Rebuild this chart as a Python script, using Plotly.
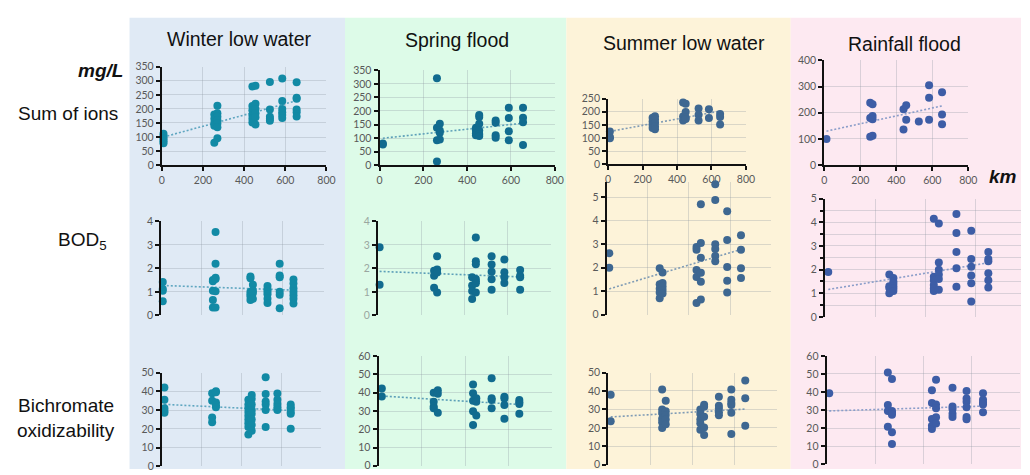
import numpy as np
import plotly.graph_objects as go

# ---- data: (distance along river in km, measured values at that station) ----
SEASONS = ["Winter low water", "Spring flood", "Summer low water", "Rainfall flood"]

WINTER_IONS = [(8, [112, 104, 97, 90, 84, 78]), (255, [180, 165, 150, 140, 80]),
               (270, [211, 185, 172, 160, 148, 135, 96]), (440, [280, 210, 195, 178, 165, 152]),
               (455, [282, 218, 200, 185, 170, 145]), (525, [296, 198, 172, 165, 158]),
               (585, [308, 228, 200, 188, 178, 168]), (655, [295, 240, 236, 198, 188, 173])]
SPRING_IONS = [(15, [80, 76]), (262, [321, 138, 92, 14]), (275, [153, 128, 120, 95]),
               (440, [138, 128, 118, 110]), (455, [185, 178, 153, 128, 115, 108]),
               (530, [165, 157, 110, 101]), (590, [212, 174, 125, 92]), (655, [212, 175, 158, 74])]
SUMMER_IONS = [(10, [125, 104, 99]), (258, [177, 163, 150, 138]), (272, [183, 170, 157, 144, 133]),
               (435, [235, 182, 167]), (450, [230, 199, 177, 172]), (525, [212, 188, 167]),
               (585, [209, 176]), (650, [191, 180, 151])]
RAIN_IONS = [(12, [100]), (255, [238, 180, 108]), (268, [232, 188, 175, 112]), (440, [213, 136]),
             (455, [229, 173]), (525, [167]), (582, [305, 257, 173]), (654, [278, 193, 156])]

WINTER_BOD = [(8, [1.42, 1.12, 1.05, 0.6]), (255, [1.5, 1.45, 1.05, 0.65, 0.33]),
              (268, [3.55, 2.2, 1.6, 1.55, 1.02, 0.33]), (440, [1.65, 1.58, 1.0, 0.9, 0.8, 0.65]),
              (452, [1.3, 1.05, 0.95, 0.7]), (524, [1.25, 1.1, 1.0, 0.9, 0.7, 0.52]),
              (584, [2.2, 1.7, 1.62, 1.0, 0.88, 0.3]), (652, [1.52, 1.35, 1.15, 1.0, 0.85, 0.7, 0.5])]
SPRING_BOD = [(8, [2.9, 1.3]), (260, [1.9, 1.68, 1.17]), (274, [2.52, 1.95, 1.82, 0.97]),
              (436, [1.62, 1.27, 1.04, 0.69]), (453, [3.31, 2.3, 2.17, 1.55, 1.45, 1.37, 0.97]),
              (526, [2.52, 2.16, 1.85, 1.54, 1.09]), (585, [2.38, 1.83, 1.62, 1.38]),
              (658, [1.93, 1.68, 1.62, 1.09])]
SUMMER_BOD = [(13, [2.62, 2.0]), (258, [1.98, 1.3, 1.1, 0.95, 0.7]), (272, [1.8, 1.35, 1.2, 1.05, 0.9]),
              (437, [2.88, 2.76, 1.9, 1.6, 0.5]), (458, [4.7, 3.05, 2.42, 1.78, 1.4, 0.65]),
              (528, [5.55, 4.88, 3.0, 2.8, 2.5, 2.28]), (586, [4.4, 3.18, 2.03, 1.45, 0.94]),
              (653, [3.38, 2.76, 1.98, 1.56])]
RAIN_BOD = [(13, [1.9]), (256, [1.8, 1.3, 1.22, 1.0]), (272, [1.65, 1.5, 1.4, 1.3, 1.2, 1.1]),
            (433, [4.15, 1.7, 1.55, 1.35, 1.2, 1.1]), (453, [3.95, 2.3, 2.0, 1.8, 1.6, 1.15]),
            (523, [4.35, 3.55, 2.75, 2.06, 1.28]), (582, [3.65, 2.45, 2.12, 1.75, 1.43, 0.65]),
            (650, [2.75, 2.45, 2.35, 1.85, 1.55, 1.25])]

WINTER_COD = [(13, [42, 35.5, 31, 29.5, 28.5]), (253, [39, 35, 26, 23.5]), (272, [40, 39.5, 34, 32.5, 31.5]),
              (435, [35.5, 33, 31, 29, 27, 25, 23, 21, 17]), (452, [38, 36, 33, 30, 28, 25, 22, 19]),
              (522, [47.5, 38.5, 34.5, 33, 30, 21]), (581, [38.8, 35.5, 33.2, 31.5, 30]),
              (648, [33, 31.5, 30.5, 29, 28, 20])]
SPRING_COD = [(15, [42.3, 38]), (255, [40, 35, 32.5, 31.5]), (274, [41.3, 39.5, 29]),
              (437, [44.5, 39.7, 35.6, 29.8, 22.3]), (452, [37, 35, 27.6]), (523, [48, 37, 36, 31.5]),
              (582, [37.8, 36.8, 33.3, 25.8]), (651, [36, 34.8, 33.8, 28.5])]
SUMMER_COD = [(12, [38, 23.6]), (256, [40.8, 30, 28, 25, 23, 20]), (273, [34.7, 29, 27, 24.5, 22]),
              (437, [30, 27.5, 24.5, 22.5, 19]), (455, [32.5, 31.5, 26, 20.2, 16.2]),
              (525, [36.8, 32, 30.5, 28.5, 26.8]), (584, [40.8, 35.2, 33.5, 32.4, 28.2, 16.7]),
              (650, [45.6, 36.1, 21.1])]
RAIN_COD = [(11, [39.3]), (253, [50.8, 32.8, 29.5, 20.7]), (270, [47.2, 29.5, 28.5, 27.4, 17.7, 11.2]),
            (435, [40.9, 33.9, 25, 21.3, 19.5]), (452, [46.8, 33, 31, 26, 22.5]),
            (520, [42.3, 31.9, 30.6, 27.9, 26.1]), (578, [40.5, 36.4, 34.6, 31.5, 26.1, 24.9]),
            (646, [39.3, 35.7, 34.2, 33, 28.8])]

GRID_DATA = [
    [WINTER_IONS, SPRING_IONS, SUMMER_IONS, RAIN_IONS],
    [WINTER_BOD, SPRING_BOD, SUMMER_BOD, RAIN_BOD],
    [WINTER_COD, SPRING_COD, SUMMER_COD, RAIN_COD],
]

# ---- page geometry (pixels) ----
W, H = 1030, 475
PANEL_X = [(128, 346), (346, 570), (570, 797), (797, 1030)]
PANEL_COLORS = ["#e0eaf5", "#ddfbe8", "#fdf3d9", "#fde9f1"]
DOT_COLORS = ["#128aa5", "#116b8f", "#3e6791", "#3d5da6"]
TREND_COLORS = ["#5fa6c0", "#5c9fb8", "#7f9bb5", "#8a9dc9"]

# plot boxes: (x_left, x_right, x_max, y_top, y_bottom, y_max, dtick)
BOXES = [
    [(160.7, 327.3, 800, 62.3, 163.3, 350, 50), (381, 558.3, 800, 66, 163.3, 350, 50),
     (612.3, 751.7, 800, 95, 162.3, 250, 50), (831, 976.7, 800, 55.7, 163.3, 400, 100)],
    [(160, 324.3, 800, 221, 317.3, 4, 1), (379.3, 554.3, 800, 221, 317.3, 4, 1),
     (610.7, 777.3, 800, 180.5, 316.7, 5.65, 1), (831.7, 1030, 780, 197.7, 319, 5, 1)],
    [(160.7, 321.7, 800, 376, 472.3, 50, 10), (380, 555, 800, 359.3, 471.7, 60, 10),
     (612.3, 783, 800, 376, 470.7, 50, 10), (833.3, 1029.3, 800, 359, 470, 60, 10)],
]

fig = go.Figure()
layout = {}
tick_font = dict(family="Lato, Open Sans, sans-serif", size=10.5, color="#595959")
grid_col = "rgba(140,150,160,0.30)"

n = 0
for r in range(3):
    for c in range(4):
        n += 1
        sfx = "" if n == 1 else str(n)
        groups = GRID_DATA[r][c]
        xs = [km for km, vals in groups for _ in vals]
        ys = [v for _, vals in groups for v in vals]
        xl, xr, xmax, yt, yb, ymax, dt = BOXES[r][c]

        # least-squares trend line over the observed stretch
        k, b = np.polyfit(xs, ys, 1)
        tx = np.array([min(xs), max(xs)])
        fig.add_trace(go.Scatter(x=tx, y=k * tx + b, mode="lines", xaxis="x" + sfx, yaxis="y" + sfx,
                                 line=dict(color=TREND_COLORS[c], width=1.6, dash="2px,2px"),
                                 hoverinfo="skip", showlegend=False))
        fig.add_trace(go.Scatter(x=xs, y=ys, mode="markers", xaxis="x" + sfx, yaxis="y" + sfx,
                                 marker=dict(size=8, color=DOT_COLORS[c], line=dict(width=0)),
                                 cliponaxis=False, showlegend=False))

        top_row = r == 0
        xaxis = dict(domain=[xl / W, xr / W], range=[0, xmax], anchor="y" + sfx,
                     dtick=200, tick0=0, showgrid=True, gridcolor=grid_col, gridwidth=1,
                     zeroline=False, showticklabels=top_row, tickfont=tick_font,
                     showline=top_row, linecolor="#111111", linewidth=2,
                     ticks="outside" if top_row else "", ticklen=4, tickwidth=1.5,
                     tickcolor="#111111", fixedrange=True)
        yaxis = dict(domain=[1 - yb / H, 1 - yt / H], range=[0, ymax], anchor="x" + sfx,
                     dtick=dt, tick0=0, showgrid=True, gridcolor=grid_col, gridwidth=1,
                     zeroline=False, showticklabels=True, tickfont=tick_font,
                     showline=True, linecolor="#111111", linewidth=2,
                     ticks="outside", ticklen=4, tickwidth=1.5, tickcolor="#111111",
                     fixedrange=True)
        if r == 1 and c == 3:
            yaxis["minor"] = dict(dtick=0.5, showgrid=True, gridcolor=grid_col,
                                  ticks="outside", ticklen=3, tickcolor="#111111")
        if r == 1 and c == 1:
            yaxis["tickfont"] = dict(family="Lato, Open Sans, sans-serif", size=10.5, color="#9aa6a0")
        layout["xaxis" + sfx] = xaxis
        layout["yaxis" + sfx] = yaxis

# coloured season columns behind the plots
shapes = []
for (x0, x1), col in zip(PANEL_X, PANEL_COLORS):
    shapes.append(dict(type="rect", xref="paper", yref="paper", layer="below",
                       x0=x0 / W, x1=x1 / W, y0=0, y1=1 - 12 / H,
                       fillcolor=col, line=dict(width=0)))

title_font = dict(family="Liberation Sans, Arial, sans-serif", size=19.5, color="#111111")
label_font = dict(family="Liberation Sans, Arial, sans-serif", size=19, color="#111111")
annotations = []
for name, (cx, cy) in zip(SEASONS, [(239, 34), (459, 35), (689, 38), (912, 39)]):
    annotations.append(dict(text=name, x=cx / W, y=1 - cy / H, xref="paper", yref="paper",
                            showarrow=False, font=title_font, xanchor="center", yanchor="middle"))

row_labels = [
    ("<b><i>mg/L</i></b>", 123, 66, "right"),
    ("Sum of ions", 66, 110, "center"),
    ("BOD<sub>5</sub>", 80, 241, "center"),
    ("Bichromate", 64, 410, "center"),
    ("oxidizability", 64, 436, "center"),
    ("<b><i>km</i></b>", 1028, 175, "right"),
]
for txt, px, py, anc in row_labels:
    annotations.append(dict(text=txt, x=px / W, y=1 - py / H, xref="paper", yref="paper",
                            showarrow=False, font=label_font, xanchor=anc, yanchor="middle"))

fig.update_layout(width=W, height=H, margin=dict(l=0, r=0, t=0, b=0),
                  paper_bgcolor="white", plot_bgcolor="rgba(0,0,0,0)",
                  shapes=shapes, annotations=annotations, showlegend=False, **layout)

fig.write_html("out.html", config={"displayModeBar": False})
